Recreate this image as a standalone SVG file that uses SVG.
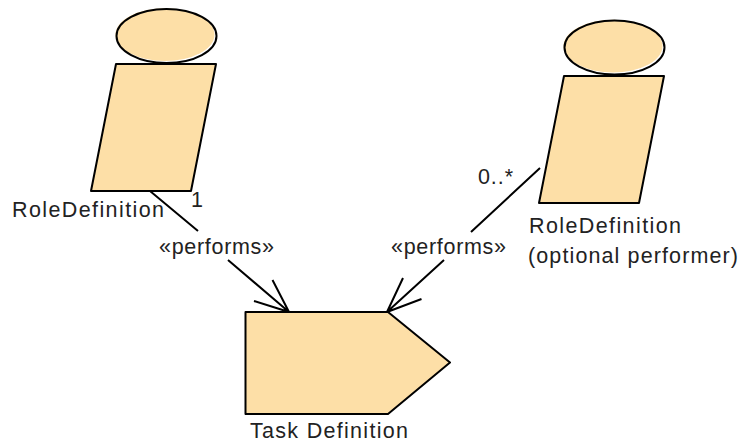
<svg xmlns="http://www.w3.org/2000/svg" width="742" height="443" viewBox="0 0 742 443">
<style>
.s{fill:#fddfa7;stroke:#000;stroke-width:2;stroke-linejoin:round}
.f{fill:#fddfa7}
.o{fill:none;stroke:#000;stroke-width:2}
.c{fill:none;stroke:#000;stroke-width:2}
text{font-family:"Liberation Sans",Arial,sans-serif;font-size:21.500px;fill:#222}
</style>
<rect width="742" height="443" fill="#fff"/>
<g id="connectors">
<path class="c" d="M150 191L198 231M228 260L289 312M254 301L289 312M272.500 280L289 312"/>
<path class="c" d="M540 168L471 232M444 260L387 312M421.500 299L387 312M403 278L387 312"/>
</g>
<g id="role1">
<ellipse class="f" cx="165" cy="34.700" rx="49.500" ry="26.400"/>
<ellipse class="o" cx="166.500" cy="36" rx="50" ry="27"/>
<path class="s" d="M116 64H216L191 191H91Z"/>
<text x="12" y="217" textLength="152">RoleDefinition</text>
</g>
<g id="role2">
<ellipse class="f" cx="613" cy="46.200" rx="49.500" ry="26.400"/>
<ellipse class="o" cx="614.500" cy="47.500" rx="50" ry="27"/>
<path class="s" d="M564 76H664L639 203H539Z"/>
<text x="529" y="233" textLength="152">RoleDefinition</text>
<text x="528" y="263" textLength="210">(optional performer)</text>
</g>
<g id="task">
<path class="s" d="M245.500 312H388L450 362.500L388 414H245.500Z"/>
<text x="250" y="438" textLength="158">Task Definition</text>
</g>
<g id="labels">
<text x="191" y="207">1</text>
<text x="478" y="184" textLength="35">0..*</text>
<text x="159" y="254" textLength="115">«performs»</text>
<text x="391" y="254" textLength="115">«performs»</text>
</g>
</svg>
